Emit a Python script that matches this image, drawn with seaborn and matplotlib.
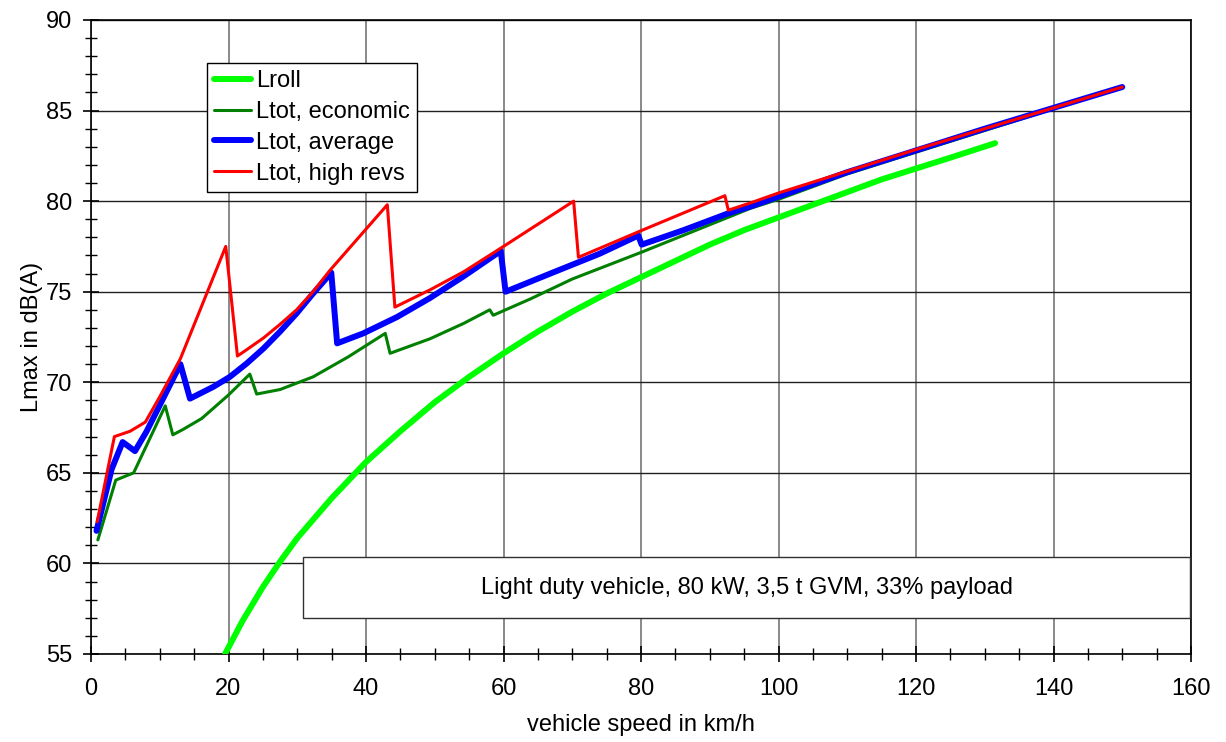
import numpy as np
import pandas as pd
import matplotlib
matplotlib.use("Agg")
import matplotlib.pyplot as plt
from matplotlib.patches import Rectangle
from matplotlib.ticker import MultipleLocator
import seaborn as sns

# values (speed km/h, level dB(A))
roll_v = [19.5, 22, 25, 27.5, 30, 32.5, 35, 40, 45, 50, 55, 60, 65, 70, 75, 80, 85,
          90, 95, 100, 105, 110, 115, 120, 125, 131.5]
roll_L = [55.0, 56.8, 58.7, 60.1, 61.4, 62.5, 63.6, 65.6, 67.3, 68.9, 70.3, 71.6,
          72.8, 73.9, 74.9, 75.8, 76.7, 77.6, 78.4, 79.1, 79.8, 80.5, 81.2, 81.8,
          82.4, 83.2]

eco_v = [1.0, 3.6, 6.2, 10.8, 11.9, 13.4, 16.1, 20.0, 23.1, 24.1, 27.5, 32.3, 37.4,
         42.8, 43.5, 49.3, 54.2, 58.0, 58.5, 63.9, 70.0, 80.2, 95.9, 100, 110,
         120, 130, 140, 150]
eco_L = [61.3, 64.6, 65.0, 68.7, 67.1, 67.4, 68.0, 69.3, 70.45, 69.35, 69.6, 70.3,
         71.4, 72.7, 71.6, 72.4, 73.25, 74.0, 73.7, 74.6, 75.7, 77.2, 79.6, 80.1,
         81.5, 82.7, 83.9, 85.1, 86.3]

avg_v = [0.8, 3.0, 4.6, 6.4, 8.1, 13.0, 14.4, 17.8, 20.2, 22.65, 25.1, 27.5, 29.9,
         32.3, 34.95, 35.8, 39.6, 44.5, 49.3, 54.2, 59.6, 60.3, 66.8, 74.0, 79.6,
         80.1, 86.2, 92.5, 95.9, 100, 110, 120, 130, 140, 150]
avg_L = [61.8, 65.2, 66.7, 66.2, 67.3, 71.0, 69.1, 69.75, 70.3, 71.04, 71.87, 72.8,
         73.8, 74.9, 76.05, 72.15, 72.7, 73.6, 74.65, 75.85, 77.25, 75.0, 76.0,
         77.1, 78.1, 77.6, 78.4, 79.3, 79.7, 80.25, 81.6, 82.8, 84.0, 85.15, 86.3]

high_v = [0.9, 3.4, 5.7, 7.9, 10.0, 13.0, 19.6, 21.3, 22.65, 25.1, 27.5, 29.9, 32.3,
          34.8, 43.1, 44.2, 49.3, 54.2, 60.0, 70.2, 70.9, 80.2, 92.2, 92.7, 95.9,
          100, 110, 120, 130, 140, 150]
high_L = [62.3, 67.0, 67.3, 67.8, 69.2, 71.3, 77.5, 71.45, 71.8, 72.45, 73.2, 74.0,
          75.0, 76.2, 79.8, 74.15, 75.1, 76.1, 77.5, 80.0, 76.9, 78.4, 80.3, 79.5,
          79.9, 80.45, 81.65, 82.85, 84.0, 85.15, 86.3]

series = [
    ("Lroll", roll_v, roll_L, "#00ff00", 4.3),
    ("Ltot, economic", eco_v, eco_L, "#008000", 2.2),
    ("Ltot, average", avg_v, avg_L, "#0000ff", 4.3),
    ("Ltot, high revs", high_v, high_L, "#ff0000", 2.2),
]

sns.set_theme(style="white")
plt.rcParams["font.family"] = ["Liberation Sans", "DejaVu Sans"]
plt.rcParams["font.size"] = 17
for key in ["text.color", "axes.labelcolor", "xtick.color", "ytick.color"]:
    plt.rcParams[key] = "black"

fig = plt.figure(figsize=(12.26, 7.42), dpi=100)
ax = fig.add_axes([91 / 1226, 1 - 654 / 742, 1100 / 1226, 634 / 742])

for name, v, L, col, lw in series:
    df = pd.DataFrame({"v": v, "L": L})
    sns.lineplot(data=df, x="v", y="L", ax=ax, color=col, linewidth=lw,
                 label=name, sort=False, estimator=None, zorder=3)

ax.set_xlim(0, 160)
ax.set_ylim(55, 90)
ax.xaxis.set_major_locator(MultipleLocator(20))
ax.xaxis.set_minor_locator(MultipleLocator(5))
ax.yaxis.set_major_locator(MultipleLocator(5))
ax.yaxis.set_minor_locator(MultipleLocator(1))
ax.tick_params(which="major", direction="inout", length=11, width=1.2,
               color="black", labelsize=17, labelcolor="black")
ax.tick_params(axis="x", which="major", pad=12)
ax.tick_params(axis="y", which="major", pad=8)
ax.tick_params(which="minor", direction="inout", length=8, width=1, color="black")
ax.tick_params(bottom=True, left=True, which="both")

ax.xaxis.grid(True, which="major", color="#808080", linewidth=1.3)
ax.yaxis.grid(True, which="major", color="#202020", linewidth=1.0)
ax.set_axisbelow(True)
for s in ax.spines.values():
    s.set_color("black")
    s.set_linewidth(1.2)

ax.set_xlabel("vehicle speed in km/h", fontsize=17, labelpad=10, color="black")
ax.set_ylabel("Lmax in dB(A)", fontsize=17, labelpad=2, color="black")

leg = ax.legend(loc="upper left", bbox_to_anchor=(0.105, 0.9326), borderaxespad=0,
                fancybox=False, frameon=True, fontsize=17, handlelength=1.6,
                handletextpad=0.2, labelspacing=0.38, borderpad=0.3)
leg.get_frame().set_edgecolor("black")
leg.get_frame().set_linewidth(1.0)
leg.get_frame().set_alpha(1)
for t in leg.get_texts():
    t.set_color("black")

box = Rectangle((30.8, 56.96), 129.1, 3.37, facecolor="white", edgecolor="#303030",
                linewidth=1.0, zorder=4)
ax.add_patch(box)
ax.text(95.4, 58.65, "Light duty vehicle, 80 kW, 3,5 t GVM, 33% payload",
        ha="center", va="center", fontsize=17, color="black", zorder=5)

fig.savefig("out.png", dpi=100)
